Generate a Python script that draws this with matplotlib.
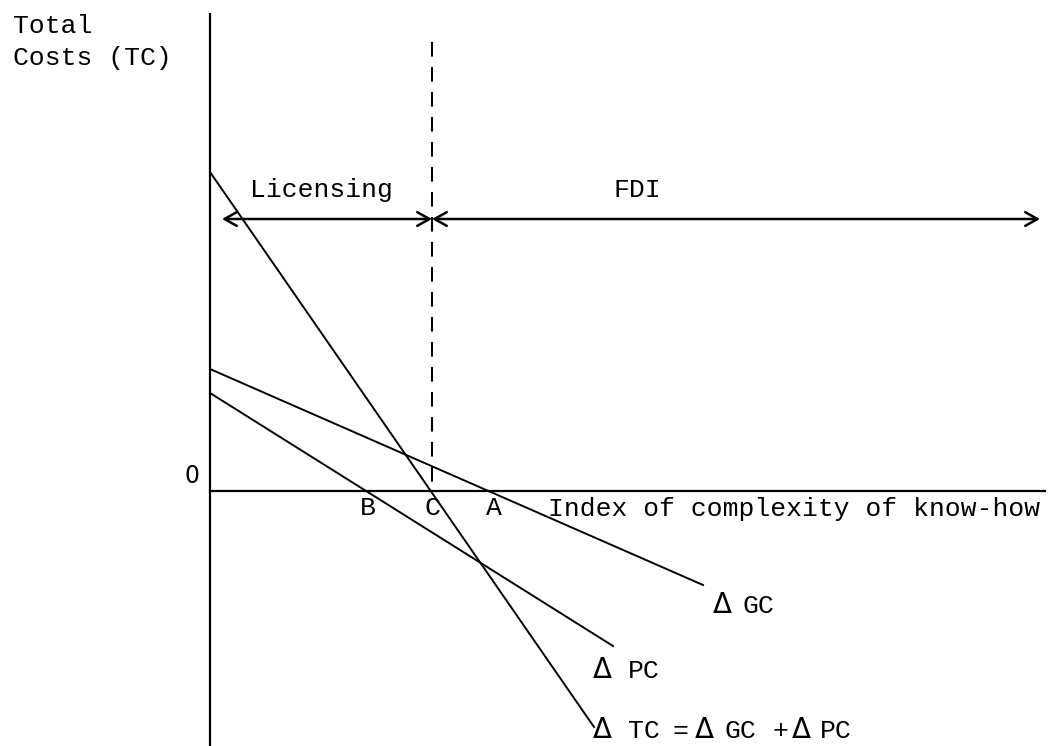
"""
Licensing vs FDI: cost curves against the complexity of know-how.
Schematic redrawn from a scanned figure; units are arbitrary (1 unit ~ 100 px).
"""
import matplotlib

matplotlib.use("Agg")
import matplotlib.pyplot as plt

# cost curves (straight lines): x = complexity, y = cost
gc_x = [0.0, 4.93]
gc_y = [1.22, -0.94]
pc_x = [0.0, 4.03]
pc_y = [0.98, -1.55]
tc_x = [0.0, 3.84]
tc_y = [3.19, -2.36]

# axes extents and the switch point C
y_axis_top, y_axis_bottom = 4.78, -2.60
x_axis_right = 8.35
c_switch = 2.22
dash_top = 4.49
regime_y = 2.72
licensing_left = 0.12
fdi_right = 8.30

# letters on the x axis: B, C, A
point_labels = ["B", "C", "A"]
point_x = [1.58, 2.22, 2.84]

MONO = ["Liberation Mono", "DejaVu Sans Mono"]
SANS = ["DejaVu Sans"]
FS = 19


def piece_text(ax, pieces, y):
    """Draw a label made of pieces (text, x, is_delta) on one baseline."""
    for s, x, delta in pieces:
        if delta:
            ax.text(x, y, s, fontsize=20, family=SANS, va="baseline", ha="left")
        else:
            ax.text(x, y, s, fontsize=FS, family=MONO, va="baseline", ha="left")


fig = plt.figure(figsize=(10.48, 7.46), dpi=100)
ax = fig.add_axes([0, 0, 1, 1])
ax.set_xlim(-2.10, 8.38)
ax.set_ylim(-2.55, 4.91)
ax.axis("off")

# axes
ax.plot([0, 0], [y_axis_top, y_axis_bottom], color="black", lw=1.6,
        solid_capstyle="butt")
ax.plot([0, x_axis_right], [0, 0], color="black", lw=1.6)

# dashed switch line at C
ax.plot([c_switch, c_switch], [dash_top, 0], color="black", lw=1.5,
        linestyle=(0, (7, 5)))

# the three cost curves
for xs, ys in [(gc_x, gc_y), (pc_x, pc_y), (tc_x, tc_y)]:
    ax.plot(xs, ys, color="black", lw=1.4)

# regime arrows
arrow = dict(arrowstyle="<->,head_length=0.8,head_width=0.45", lw=1.8,
             color="black", shrinkA=0, shrinkB=0, mutation_scale=11)
ax.annotate("", xy=(licensing_left, regime_y), xytext=(c_switch, regime_y),
            arrowprops=arrow)
ax.annotate("", xy=(c_switch, regime_y), xytext=(fdi_right, regime_y),
            arrowprops=arrow)

# text
txt = dict(fontsize=FS, family=MONO, va="baseline")
ax.text(-1.97, 4.58, "Total", ha="left", **txt)
ax.text(-1.97, 4.26, "Costs (TC)", ha="left", **txt)
ax.text(0.40, 2.94, "Licensing", ha="left", **txt)
ax.text(4.03, 2.94, "FDI", ha="left", **txt)
ax.text(-0.25, 0.08, "0", ha="left", fontsize=17, family=SANS, va="baseline")
for lab, x in zip(point_labels, point_x):
    ax.text(x, -0.24, lab, ha="center", **txt)
ax.text(8.30, -0.25, "Index of complexity of know-how", ha="right", **txt)

piece_text(ax, [("Δ", 5.03, True), ("GC", 5.32, False)], -1.22)
piece_text(ax, [("Δ", 3.83, True), ("PC", 4.18, False)], -1.87)
piece_text(ax, [("Δ", 3.83, True), ("TC", 4.18, False), ("=", 4.62, False),
                ("Δ", 4.85, True), ("GC", 5.15, False), ("+", 5.63, False),
                ("Δ", 5.82, True), ("PC", 6.10, False)], -2.47)

fig.savefig("out.png", dpi=100)
